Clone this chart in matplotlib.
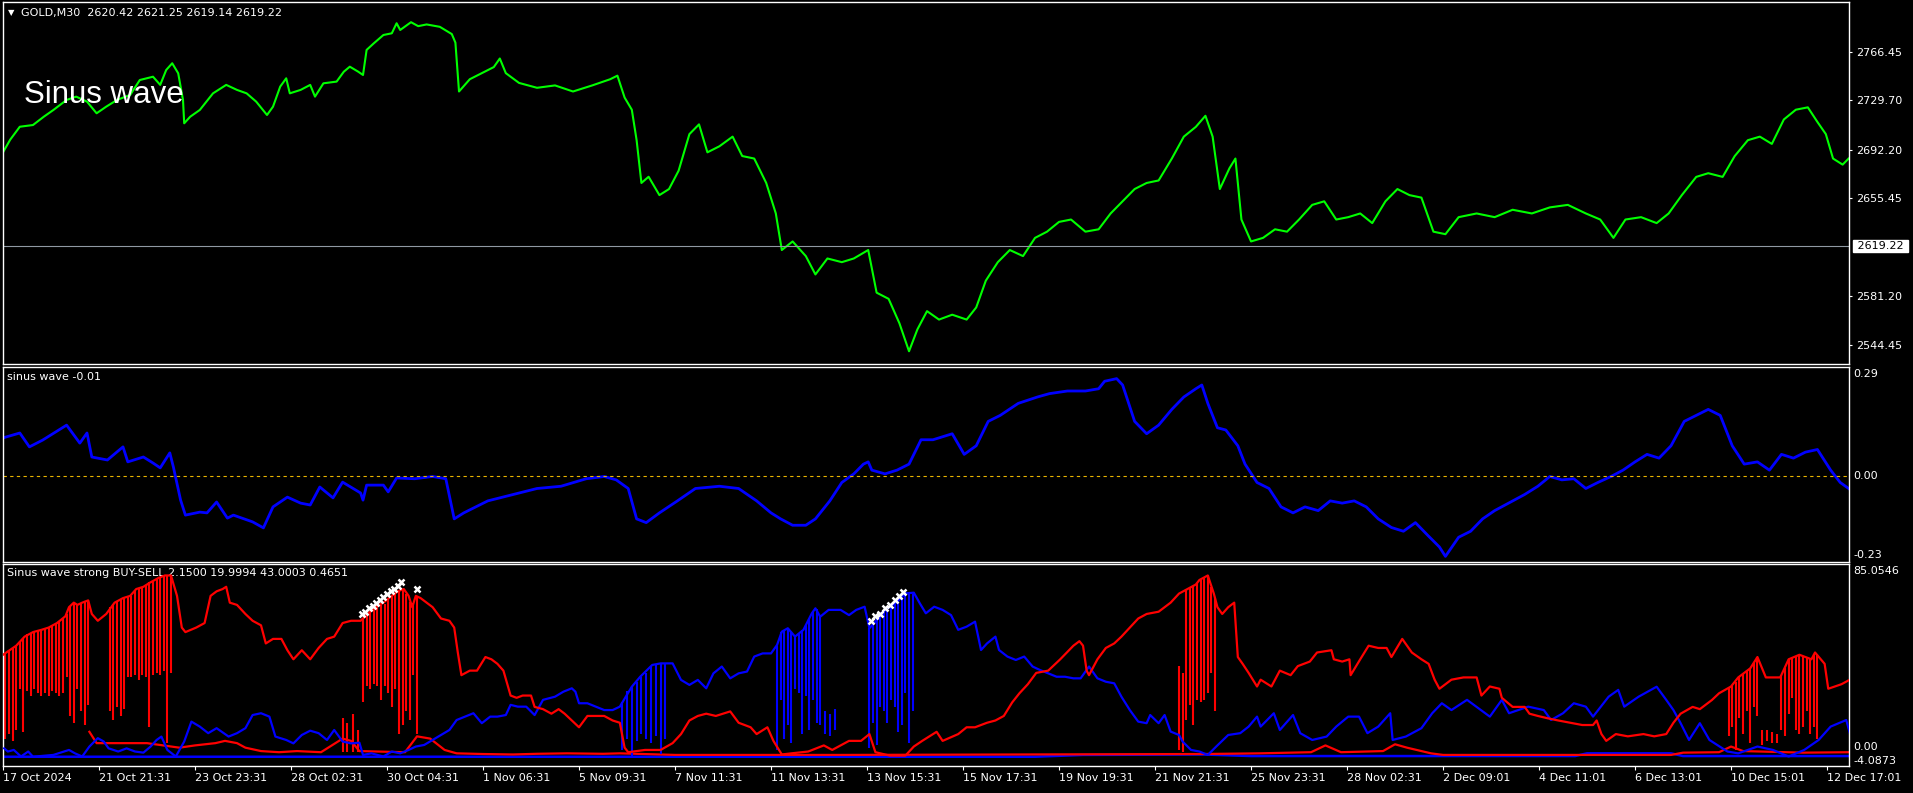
import matplotlib
matplotlib.use("Agg")
import matplotlib.pyplot as plt

W, H = 1913, 793

# ---------------- GOLD M30 close (bar index, price)
gold_bar = [0, 6, 14, 25, 34, 42, 53, 61, 70, 78,
            86, 95, 106, 114, 125, 131, 136, 141, 146, 150,
            151, 156, 164, 175, 186, 195, 203, 211, 220, 225,
            231, 236, 239, 248, 256, 260, 267, 278, 284, 289,
            296, 300, 303, 309, 317, 324, 328, 331, 340, 346,
            353, 364, 374, 377, 380, 389, 399, 409, 414, 419,
            430, 445, 460, 475, 491, 506, 512, 518, 524, 528,
            532, 538, 547, 555, 563, 572, 580, 587, 597, 608,
            616, 626, 636, 644, 649, 658, 669, 677, 687, 699,
            709, 721, 728, 738, 747, 755, 762, 770, 780, 791,
            803, 811, 819, 829, 839, 850, 860, 870, 880, 890,
            902, 913, 923, 933, 943, 953, 963, 974, 984, 994,
            1002, 1008, 1014, 1022, 1027, 1032, 1040, 1050, 1060, 1070,
            1080, 1091, 1101, 1111, 1121, 1131, 1141, 1152, 1162, 1172,
            1182, 1192, 1202, 1213, 1228, 1243, 1258, 1274, 1289, 1304,
            1319, 1331, 1342, 1352, 1365, 1378, 1388, 1399, 1411, 1421,
            1433, 1443, 1454, 1464, 1474, 1484, 1494, 1504, 1512, 1519,
            1525, 1533, 1538]
gold_close = [2690.4, 2700.0, 2709.8, 2711.1, 2717.4, 2722.5, 2730.1, 2732.6, 2728.8, 2720.0,
              2725.0, 2730.1, 2733.9, 2745.2, 2747.7, 2741.5, 2752.8, 2757.9, 2750.3, 2730.1,
              2712.4, 2717.4, 2722.5, 2735.1, 2741.5, 2737.7, 2735.1, 2728.8, 2718.7, 2725.0,
              2740.2, 2746.5, 2735.1, 2737.7, 2741.5, 2732.6, 2742.7, 2744.0, 2751.5, 2755.3,
              2751.5, 2749.0, 2768.0, 2773.0, 2779.3, 2780.6, 2788.2, 2783.1, 2789.0, 2786.0,
              2787.3, 2785.5, 2780.0, 2773.5, 2736.5, 2745.8, 2750.4, 2755.0, 2761.5, 2750.4,
              2743.0, 2739.3, 2741.1, 2736.5, 2741.1, 2745.8, 2748.5, 2731.9, 2722.7, 2699.6,
              2667.2, 2671.9, 2658.0, 2662.6, 2676.5, 2704.2, 2711.6, 2690.4, 2695.0, 2702.3,
              2687.6, 2685.7, 2667.2, 2644.1, 2616.4, 2622.9, 2611.8, 2597.9, 2610.0, 2607.2,
              2610.0, 2616.4, 2584.1, 2579.4, 2560.9, 2539.7, 2556.3, 2570.1, 2563.7, 2567.4,
              2563.7, 2572.9, 2593.2, 2607.2, 2616.4, 2611.8, 2625.6, 2630.3, 2637.7, 2639.5,
              2630.3, 2632.1, 2644.1, 2653.3, 2662.6, 2667.2, 2669.1, 2685.7, 2702.3, 2709.7,
              2718.1, 2702.3, 2662.6, 2678.3, 2685.7, 2639.5, 2622.9, 2625.6, 2632.1, 2630.3,
              2639.5, 2650.6, 2653.3, 2639.5, 2641.3, 2644.1, 2636.8, 2653.3, 2662.6, 2658.0,
              2656.1, 2630.3, 2628.4, 2641.3, 2644.1, 2641.3, 2646.9, 2644.1, 2648.7, 2650.6,
              2644.1, 2639.5, 2625.6, 2639.5, 2641.3, 2636.8, 2644.1, 2658.0, 2671.8, 2674.6,
              2671.8, 2687.5, 2699.6, 2702.3, 2696.8, 2715.3, 2722.7, 2724.5, 2713.4, 2704.2,
              2685.7, 2681.1, 2685.7]
last_price = 2619.22
price_ticks = [2766.45, 2729.70, 2692.20, 2655.45, 2581.20, 2544.45]

# ---------------- sinus wave
wave_bar = [0, 14, 22, 33, 53, 64, 70, 74, 87, 100,
            104, 117, 125, 131, 139, 142, 148, 152, 164, 170,
            178, 187, 192, 208, 217, 225, 237, 248, 256, 264,
            275, 283, 298, 300, 303, 317, 321, 328, 343, 358,
            369, 376, 384, 404, 425, 445, 465, 486, 501, 511,
            521, 528, 536, 547, 562, 577, 597, 613, 628, 640,
            648, 658, 669, 677, 689, 699, 709, 717, 721, 724,
            735, 745, 755, 765, 775, 791, 801, 811, 821, 831,
            846, 862, 872, 887, 902, 913, 918, 928, 933, 943,
            953, 963, 974, 984, 994, 999, 1004, 1012, 1019, 1029,
            1035, 1045, 1055, 1065, 1075, 1085, 1096, 1106, 1116, 1126,
            1136, 1146, 1157, 1167, 1177, 1187, 1197, 1202, 1213, 1223,
            1233, 1243, 1258, 1268, 1279, 1289, 1299, 1309, 1319, 1329,
            1340, 1350, 1360, 1370, 1380, 1390, 1401, 1411, 1421, 1431,
            1441, 1451, 1462, 1472, 1482, 1492, 1502, 1512, 1523, 1531,
            1538]
wave_val = [0.101, 0.114, 0.077, 0.095, 0.135, 0.087, 0.114, 0.050, 0.042, 0.077,
            0.037, 0.050, 0.034, 0.021, 0.061, 0.023, -0.065, -0.105, -0.097, -0.099,
            -0.070, -0.113, -0.105, -0.123, -0.139, -0.083, -0.057, -0.073, -0.078, -0.030,
            -0.059, -0.017, -0.046, -0.065, -0.025, -0.025, -0.043, -0.006, -0.008, -0.002,
            -0.008, -0.115, -0.099, -0.067, -0.050, -0.034, -0.028, -0.008, -0.002, -0.011,
            -0.034, -0.115, -0.125, -0.099, -0.067, -0.034, -0.028, -0.034, -0.067, -0.099,
            -0.115, -0.132, -0.132, -0.115, -0.067, -0.018, 0.005, 0.031, 0.037, 0.015,
            0.005, 0.015, 0.031, 0.096, 0.096, 0.112, 0.057, 0.080, 0.145, 0.161,
            0.193, 0.210, 0.219, 0.226, 0.226, 0.232, 0.252, 0.259, 0.242, 0.145,
            0.112, 0.135, 0.177, 0.210, 0.232, 0.242, 0.193, 0.128, 0.122, 0.080,
            0.031, -0.018, -0.034, -0.083, -0.099, -0.083, -0.093, -0.067, -0.073, -0.067,
            -0.083, -0.115, -0.138, -0.148, -0.125, -0.158, -0.190, -0.215, -0.164, -0.148,
            -0.115, -0.093, -0.067, -0.050, -0.028, -0.002, -0.011, -0.008, -0.034, -0.018,
            -0.002, 0.015, 0.037, 0.057, 0.047, 0.080, 0.145, 0.161, 0.177, 0.161,
            0.080, 0.031, 0.037, 0.015, 0.057, 0.047, 0.063, 0.070, 0.015, -0.018,
            -0.034]

# ---------------- Sinus wave strong BUY-SELL
sell_bar = [0, 11, 18, 25, 32, 38, 45, 52, 55, 59,
            62, 66, 71, 74, 79, 86, 93, 100, 106, 111,
            117, 123, 130, 135, 140, 145, 149, 152, 161, 168,
            173, 178, 183, 186, 189, 195, 202, 208, 215, 219,
            225, 232, 237, 242, 249, 256, 263, 270, 276, 283,
            290, 298, 304, 310, 317, 324, 329, 334, 338, 341,
            344, 348, 353, 358, 365, 372, 376, 379, 382, 389,
            395, 402, 407, 412, 417, 423, 428, 433, 440, 443,
            450, 457, 463, 468, 474, 480, 487, 494, 501, 508,
            514, 518, 521, 535, 548, 558, 565, 572, 579, 586,
            594, 606, 613, 623, 628, 637, 642, 649, 657, 671,
            684, 691, 705, 715, 722, 727, 739, 752, 759, 766,
            778, 783, 796, 803, 810, 820, 827, 834, 841, 847,
            854, 861, 871, 881, 892, 897, 900, 903, 905, 912,
            919, 926, 932, 939, 946, 953, 963, 973, 980, 987,
            994, 997, 1004, 1009, 1012, 1016, 1021, 1026, 1029, 1033,
            1038, 1045, 1048, 1057, 1064, 1073, 1079, 1089, 1095, 1107,
            1109, 1116, 1122, 1123, 1131, 1138, 1146, 1153, 1157, 1166,
            1174, 1182, 1188, 1193, 1197, 1207, 1217, 1228, 1232, 1239,
            1247, 1249, 1258, 1268, 1272, 1279, 1287, 1296, 1306, 1316,
            1325, 1328, 1332, 1336, 1344, 1354, 1367, 1376, 1386, 1392,
            1398, 1408, 1414, 1424, 1430, 1440, 1446, 1456, 1462, 1469,
            1481, 1488, 1497, 1507, 1510, 1518, 1521, 1532, 1539]
sell_val = [45, 49, 53, 55, 56, 57, 59, 62, 66, 68,
            67, 68, 69, 63, 60, 63, 68, 70, 71, 74,
            75, 77, 79, 80, 80, 71, 57, 55, 57, 59,
            71, 73, 74, 75, 68, 67, 63, 60, 58, 50,
            52, 52, 47, 43, 47, 43, 48, 52, 53, 59,
            60, 60, 63, 66, 68, 71, 73, 74, 71, 66,
            71, 70, 68, 66, 61, 60, 57, 46, 36, 38,
            38, 44, 43, 41, 38, 27, 26, 27, 27, 22,
            21, 19, 21, 19, 16, 13, 18, 18, 18, 16,
            15, 4, 2, 3, 3, 6, 10, 16, 18, 19,
            18, 20, 15, 13, 10, 13, 7, 1, 1.5, 2.3,
            5, 3, 7, 7, 10, 2, 0.5, 0.5, 4.5, 7,
            11, 7, 10, 13, 13, 15, 16, 18, 24, 28,
            32, 37, 38, 43, 49, 51, 49, 38, 36, 43,
            48, 50, 53, 57, 61, 63, 64, 68, 72, 74,
            76, 78, 80, 72, 66, 63, 66, 68, 44, 41,
            37, 31, 34, 31, 38, 36, 40, 42, 46, 47,
            43, 42, 43, 36, 43, 49, 48, 48, 44, 52,
            46, 43, 41, 34, 30, 34, 35, 35, 27, 31,
            30, 26, 22, 22, 19, 18, 17, 16, 15, 14,
            14, 16, 10, 7, 10, 9, 10, 9, 10, 15,
            19, 22, 21, 25, 28, 31, 35, 39, 44, 35,
            35, 43, 45, 43, 46, 41, 30, 32, 34]

buy_bar = [1, 4, 9, 15, 21, 25, 42, 55, 60, 66,
           72, 79, 84, 88, 96, 103, 110, 117, 123, 128,
           132, 137, 144, 151, 157, 164, 171, 178, 188, 195,
           202, 208, 215, 222, 227, 236, 242, 249, 256, 263,
           270, 276, 283, 290, 297, 300, 307, 317, 324, 331,
           338, 344, 351, 358, 365, 372, 378, 385, 392, 399,
           406, 412, 419, 423, 429, 436, 443, 450, 460, 467,
           474, 477, 480, 487, 494, 501, 508, 514, 524, 531,
           541, 548, 558, 565, 572, 579, 586, 592, 599, 606,
           613, 620, 626, 633, 640, 645, 649, 654, 660, 667,
           674, 677, 681, 688, 698, 705, 711, 718, 722, 727,
           732, 739, 745, 752, 759, 764, 769, 776, 783, 790,
           796, 803, 810, 815, 820, 827, 830, 837, 844, 851,
           858, 864, 871, 878, 885, 892, 898, 905, 912, 919,
           926, 932, 939, 946, 953, 956, 963, 968, 973, 980,
           983, 990, 997, 1004, 1011, 1021, 1031, 1038, 1045, 1048,
           1059, 1064, 1075, 1081, 1086, 1091, 1103, 1111, 1121, 1130,
           1137, 1146, 1156, 1158, 1169, 1182, 1191, 1199, 1207, 1220,
           1239, 1249, 1255, 1271, 1284, 1290, 1300, 1309, 1319, 1325,
           1338, 1346, 1351, 1363, 1378, 1386, 1392, 1398, 1405, 1414,
           1422, 1437, 1446, 1462, 1475, 1488, 1501, 1513, 1523, 1536,
           1539]
buy_val = [3.7, 2.3, 3.0, 0.1, 2.3, 0.0, 0.8, 3.0, 1.5, 0.1,
           4.5, 8.2, 6.7, 3.7, 2.3, 3.7, 2.3, 1.8, 4.5, 7.4,
           8.9, 3.0, 0.1, 6.7, 15.5, 13.3, 10.4, 12.6, 8.9, 10.4,
           12.6, 18.4, 19.2, 17.7, 8.9, 7.4, 5.9, 9.6, 11.5, 10.4,
           7.4, 11.8, 6.7, 5.9, 6.2, 0.8, 1.5, 0.1, 2.3, 1.5,
           3.0, 4.5, 5.2, 7.4, 9.6, 11.8, 16.2, 17.7, 19.2, 14.8,
           17.7, 17.7, 18.4, 22.9, 22.1, 22.1, 18.4, 25.1, 26.5, 28.7,
           30.2, 28.7, 23.6, 23.6, 22.1, 20.6, 20.6, 22.1, 30.9, 35.3,
           40.5, 41.2, 41.2, 33.9, 31.7, 33.9, 30.2, 36.8, 39.8, 34.6,
           36.8, 37.6, 44.2, 45.6, 45.6, 49.3, 55.2, 56.7, 53.0, 56.0,
           63.3, 65.5, 61.8, 64.8, 64.8, 62.5, 64.8, 66.2, 56.7, 59.6,
           63.3, 66.2, 68.4, 72.1, 72.4, 67.7, 63.3, 66.2, 64.8, 62.5,
           56.0, 57.4, 59.6, 47.1, 50.0, 53.0, 47.1, 44.2, 42.7, 44.2,
           39.8, 38.3, 36.8, 35.3, 35.3, 34.6, 34.6, 39.8, 34.6, 33.1,
           32.4, 26.5, 20.6, 15.5, 14.8, 18.4, 14.8, 18.4, 11.1, 9.6,
           6.7, 3.0, 2.3, 0.8, 4.5, 9.6, 10.4, 13.3, 17.7, 13.3,
           19.2, 11.8, 18.4, 10.4, 8.9, 7.4, 8.9, 13.3, 17.7, 17.7,
           10.4, 13.3, 19.2, 7.4, 8.9, 12.6, 19.2, 23.6, 20.6, 25.1,
           17.7, 25.1, 19.2, 22.1, 20.6, 16.2, 19.2, 23.6, 22.1, 17.7,
           26.5, 29.5, 22.1, 26.5, 30.9, 25.1, 20.6, 14.8, 7.4, 14.8,
           7.4, 2.3, 1.5, 4.5, 3.0, 0.1, 3.0, 7.4, 13.3, 16.2,
           10.4]

sell_base_bar = [72, 78, 95, 120, 147, 160, 177, 185, 195, 202,
                 215, 230, 245, 265, 283, 290, 297, 335, 345, 356,
                 368, 378, 400, 425, 445, 470, 500, 514, 560, 700,
                 850, 1000, 1047, 1090, 1102, 1115, 1150, 1160, 1170, 1190,
                 1200, 1390, 1400, 1430, 1440, 1450, 1500, 1539]
sell_base_val = [11, 6, 6, 6, 4, 5, 6, 7, 6, 4,
                 2.5, 2, 2.5, 2, 8, 7, 2.5, 2, 9, 8,
                 3, 1.5, 1.2, 1, 1.3, 1.5, 1.3, 1.5, 0.8, 0.8,
                 1, 1.2, 1.5, 2, 5, 2, 2.5, 5.5, 4, 1.5,
                 0.8, 0.8, 1.8, 2, 4.5, 2.5, 1.8, 2]

buy_base_bar = [0, 860, 900, 1000, 1040, 1310, 1320, 1390, 1400, 1539]
buy_base_val = [0, 0, 0.8, 1, 0.3, 0.3, 1.5, 1.5, 0.3, 0.3]

red_hist_bar = [2, 5, 8, 11, 14, 17, 20, 23, 26, 29, 32, 35, 38, 41, 44, 47, 50, 53, 56, 59, 62, 65, 68, 71,
                89, 92, 95, 98, 101, 104, 107, 110, 113, 116, 119, 122, 125, 128, 131, 134, 137, 140,
                283, 287, 292, 296,
                300, 303, 306, 309, 312, 315, 318, 321, 324, 327, 330, 333, 336, 339, 342, 345,
                980, 983, 986, 989, 992, 995, 998, 1001, 1004, 1007, 1010,
                1438, 1441, 1444, 1447, 1450, 1453, 1456, 1459, 1462, 1466, 1470, 1474, 1478,
                1482, 1485, 1488, 1491, 1494, 1497, 1500, 1503, 1506, 1509, 1512]
red_hist_lo = [8, 10, 7, 12, 30, 11, 29, 27, 30, 28, 27, 28, 27, 29, 28, 27, 28, 35, 18, 15, 30, 20, 14, 23,
               20, 16, 22, 18, 21, 35, 35, 36, 34, 36, 35, 13, 36, 37, 36, 38, 6, 37,
               2, 2, 2, 2,
               24, 31, 30, 32, 31, 25, 31, 28, 22, 30, 10, 14, 20, 16, 36, 10,
               3, 2, 16, 23, 14, 25, 24, 25, 28, 37, 20,
               9, 13, 3, 17, 10, 20, 6, 22, 18, 5, 7, 6, 6,
               12, 9, 19, 26, 12, 10, 13, 20, 10, 13, 8]
red_hist_hi = [45.7, 47, 48, 49, 51, 52.5, 54, 54.5, 55, 55.5, 56, 56.5, 57, 58, 59, 60, 61, 63, 66.5, 68, 67, 68, 68.5, 69,
               66, 67.5, 68.5, 69.5, 70, 70.5, 71, 73, 74, 75, 76, 77, 77.5, 78.5, 79, 80, 80, 80,
               17, 15, 19, 12,
               61, 62.5, 64, 65.5, 66.5, 67, 67.5, 69.5, 71, 72, 73, 74, 72, 68.5, 68, 70.5,
               40, 37, 74, 75, 75.5, 76.5, 78, 79, 80, 75, 70,
               30.5, 31, 33, 35, 36.5, 38, 39, 41.5, 44, 12, 12, 11, 10,
               36, 39, 43, 44, 44.5, 45, 44.5, 44, 43, 45.5, 45]

blue_hist_bar = [516, 520, 524, 528, 532, 536, 540, 544, 548, 552,
                 645, 648, 651, 654, 657, 660, 663, 666, 669, 672, 675, 678, 681, 685, 689, 693,
                 722, 725, 728, 731, 734, 737, 740, 743, 746, 749, 752, 755, 758]
blue_hist_lo = [3, 8, 0, 7, 10, 8, 6, 9, 1, 8,
                3, 25, 8, 14, 6, 30, 28, 10, 27, 12, 25, 15, 14, 10, 9, 12,
                4, 15, 5, 22, 20, 15, 25, 22, 11, 14, 28, 6, 20]
blue_hist_hi = [24, 29, 31, 33, 35, 37, 40, 41, 41, 41,
                49, 55, 56, 57, 55, 53, 54, 56, 58, 61, 64, 65, 62, 20, 19, 21,
                57, 59, 61, 63, 64, 66, 67, 68, 69, 70, 72, 72, 72]

signal_bar = [299, 302, 305, 308, 311, 314, 317, 320, 323, 326, 329, 332, 345,
              723, 727, 731, 735, 739, 743, 747, 750]
signal_val = [63, 64, 65.5, 66.5, 68, 69, 70.5, 72, 73, 74, 75.5, 77, 74,
              60, 62, 63, 65.5, 67, 69, 71, 72.5]

time_ticks = [0, 80, 160, 240, 320, 400, 480, 560, 640, 720,
              800, 880, 960, 1040, 1120, 1200, 1280, 1360, 1440, 1520]
time_labels = ['17 Oct 2024', '21 Oct 21:31', '23 Oct 23:31', '28 Oct 02:31', '30 Oct 04:31',
               '1 Nov 06:31', '5 Nov 09:31', '7 Nov 11:31', '11 Nov 13:31', '13 Nov 15:31',
               '15 Nov 17:31', '19 Nov 19:31', '21 Nov 21:31', '25 Nov 23:31', '28 Nov 02:31',
               '2 Dec 09:01', '4 Dec 11:01', '6 Dec 13:01', '10 Dec 15:01', '12 Dec 17:01']


def box(x0, y0, x1, y1):
    # pixel box, origin top-left -> figure rect
    return [x0 / W, 1 - y1 / H, (x1 - x0) / W, (y1 - y0) / H]


def fx(x, y):
    return x / W, 1 - y / H


fig = plt.figure(figsize=(W / 100, H / 100), dpi=100, facecolor='black')
ax1 = fig.add_axes(box(3, 2, 1849, 364))
ax2 = fig.add_axes(box(3, 367, 1849, 562))
ax3 = fig.add_axes(box(3, 564, 1849, 766))

for ax in (ax1, ax2, ax3):
    ax.set_facecolor('black')
    for s in ax.spines.values():
        s.set_color('white')
        s.set_linewidth(1)
    ax.set_xlim(0, 1538.3)
    ax.tick_params(axis='x', bottom=False, labelbottom=False)
    ax.yaxis.tick_right()
    ax.tick_params(axis='y', colors='white', labelsize=8, length=2.5, width=0.8, pad=2.5)

# price panel
ax1.plot(gold_bar, gold_close, color='#00ff00', lw=1.5)
ax1.axhline(last_price, color='#8f98a2', lw=0.8)
ax1.set_ylim(2530.05, 2804.3)
ax1.set_yticks(price_ticks)
ax1.set_yticklabels(['%.2f' % v for v in price_ticks])
ax1.annotate(' %.2f ' % last_price, xy=(1, last_price), xycoords=('axes fraction', 'data'),
             xytext=(5, 0), textcoords='offset pixels', ha='left', va='center',
             fontsize=8, color='black', annotation_clip=False,
             bbox=dict(boxstyle='square,pad=0.1', fc='white', ec='white'))
fig.text(*fx(8, 13), '\u25bc', color='white', fontsize=6, va='center', ha='left')
fig.text(*fx(21, 13), 'GOLD,M30  2620.42 2621.25 2619.14 2619.22', color='white',
         fontsize=8, va='center', ha='left')
fig.text(*fx(24, 103), 'Sinus wave', color='white', fontsize=22.5,
         family='Liberation Sans', va='baseline', ha='left')

# sinus wave panel
ax2.plot(wave_bar, wave_val, color='#0000ff', lw=2.0)
ax2.axhline(0, color='#e8b400', lw=0.8, ls=(0, (3, 3)))
ax2.set_ylim(-0.23, 0.29)
ax2.set_yticks([])
for val, txt, va, dy in [(0.29, '0.29', 'top', -2), (0.0, '0.00', 'center', 0), (-0.23, '-0.23', 'bottom', 2)]:
    ax2.annotate(txt, xy=(1, val), xycoords=('axes fraction', 'data'), xytext=(4, dy),
                 textcoords='offset pixels', ha='left', va=va, fontsize=8, color='white',
                 annotation_clip=False)
ax2.text(*fx(7, 377), 'sinus wave -0.01', transform=fig.transFigure, color='white',
         fontsize=8, va='center', ha='left', zorder=1)

# strong BUY-SELL panel
ax3.plot(buy_base_bar, buy_base_val, color='#0000ff', lw=1.8, zorder=2)
ax3.plot(sell_base_bar, sell_base_val, color='#ff0000', lw=1.6, zorder=2)
ax3.vlines(blue_hist_bar, blue_hist_lo, blue_hist_hi, colors='#0000ff', lw=1.5, zorder=2)
ax3.vlines(red_hist_bar, red_hist_lo, red_hist_hi, colors='#ff0000', lw=1.5, zorder=2)
ax3.plot(buy_bar, buy_val, color='#0000ff', lw=1.6, zorder=3)
ax3.plot(sell_bar, sell_val, color='#ff0000', lw=1.6, zorder=3)
ax3.plot(signal_bar, signal_val, ls='none', marker='x', ms=5, mew=1.8, color='white', zorder=5)
ax3.set_ylim(-4.0873, 85.0546)
ax3.set_yticks([])
for val, txt, va, dy in [(85.0546, '85.0546', 'top', -2), (0.0, '0.00', 'bottom', 5),
                         (-4.0873, '-4.0873', 'bottom', 0)]:
    ax3.annotate(txt, xy=(1, val), xycoords=('axes fraction', 'data'), xytext=(4, dy),
                 textcoords='offset pixels', ha='left', va=va, fontsize=8, color='white',
                 annotation_clip=False)
ax3.text(*fx(7, 573), 'Sinus wave strong BUY-SELL 2.1500 19.9994 43.0003 0.4651',
         transform=fig.transFigure, color='white', fontsize=8, va='center', ha='left', zorder=1)

ax3.set_xticks(time_ticks)
ax3.set_xticklabels(time_labels, ha='left')
ax3.tick_params(axis='x', bottom=True, labelbottom=True, colors='white', labelsize=8,
                length=3, width=0.8, pad=2)

fig.savefig('out.png', dpi=100, facecolor='black')
